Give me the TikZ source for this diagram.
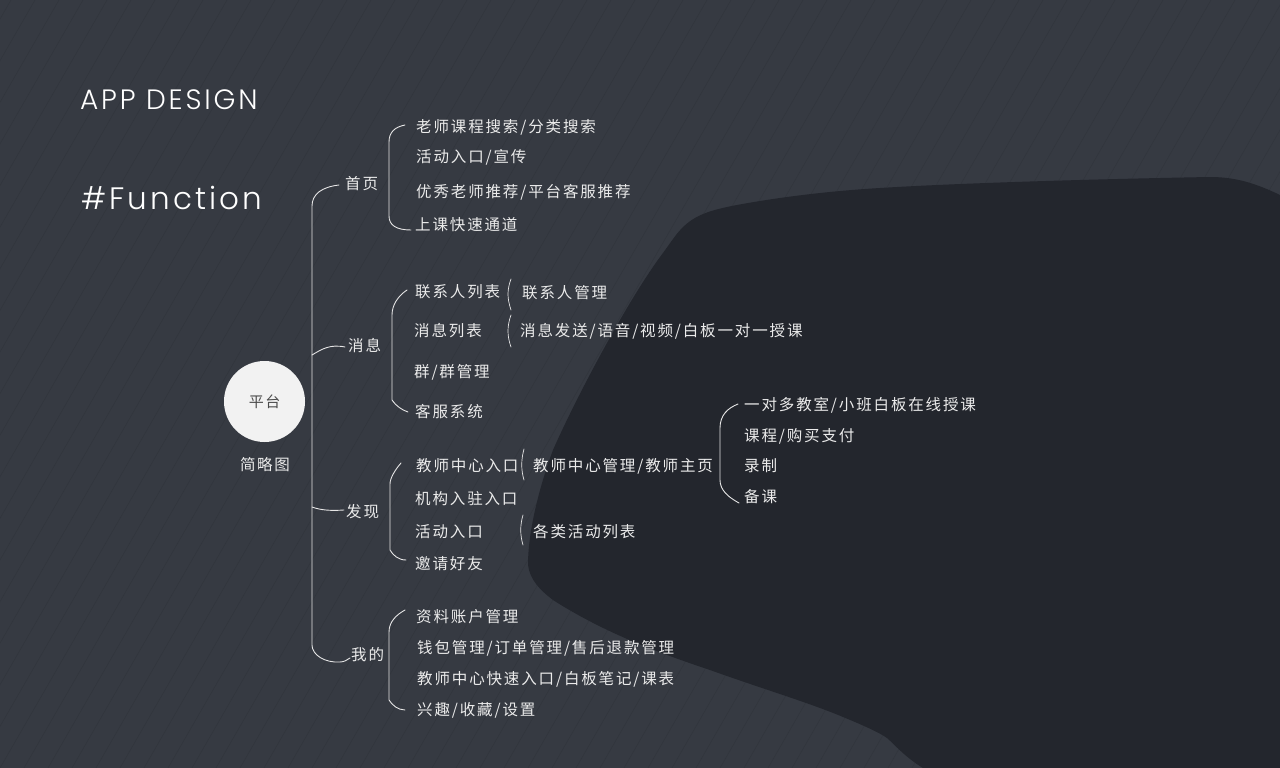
\documentclass[tikz,border=0pt]{standalone}
\usepackage{fontspec}
\usepackage{tikz}
\usetikzlibrary{calc}
\newfontfamily\cjkfont[LetterSpace=12]{Noto Sans CJK SC}
\newfontfamily\cjkroot[LetterSpace=10]{Noto Sans CJK SC}
\newfontfamily\headfont[LetterSpace=10]{Poppins Light}
\definecolor{bgdark}{HTML}{363A42}
\definecolor{blobdark}{HTML}{23262D}
\definecolor{stripe}{HTML}{31353C}
\definecolor{wirecol}{HTML}{E6E6E6}
\definecolor{rootfill}{HTML}{F2F2F2}
\tikzstyle{wire} = [wirecol,line width=0.9pt,line cap=round]
\tikzstyle{paren} = [wirecol,line width=0.7pt,line cap=round]
\tikzstyle{item} = [anchor=west,inner sep=0pt,yshift=-1pt,text=white!92!black,font=\fontsize{15.5}{17}\selectfont\cjkfont]
\tikzstyle{head} = [anchor=west,inner sep=0pt,text=white]
\begin{document}
\begin{tikzpicture}[x=1pt,y=-1pt]
   	% background
   	\useasboundingbox (0,0) rectangle (1280,768);
   	\fill[bgdark] (0,0) rectangle (1280,768);
   	\begin{scope}
   	\clip (0,0) rectangle (1280,768);
   	\foreach \i in {-20,...,70}{
   		\draw[stripe,line width=0.45pt] (\i*24,768) -- ++(443,-768);
   	}
   	\end{scope}
   	\fill[blobdark] (1280,195) .. controls (1255,183) and (1235,177) .. (1210,177)
   		.. controls (1100,179) and (960,183) .. (880,188)
   		.. controls (830,191) and (780,197) .. (737,205)
   		.. controls (705,211) and (690,217) .. (676,235)
   		.. controls (670,243) and (666,249) .. (660,257)
   		.. controls (625,305) and (575,400) .. (553,450)
   		.. controls (540,485) and (528,530) .. (528,565)
   		.. controls (530,580) and (540,590) .. (553,600)
   		.. controls (600,630) and (650,650) .. (710,670)
   		.. controls (760,688) and (810,703) .. (843,717)
   		.. controls (865,726) and (880,733) .. (887,738)
   		.. controls (895,745) and (905,757) .. (923,768)
   		-- (1280,768) -- cycle;
   	% titles
   	\node[head,font=\fontsize{28}{30}\selectfont\headfont] (title) at (80,100) {APP DESIGN};
   	\node[head,font=\fontsize{31}{38}\selectfont\headfont] (func) at (81,198) {\#Function};
   	% root
   	\node[circle,fill=rootfill,minimum size=81pt,inner sep=0pt,text=black!70,font=\fontsize{15}{16}\selectfont\cjkroot] (root) at (264.5,401.5) {平台};
   	\node[item,anchor=center,font=\fontsize{15.5}{16}\selectfont\cjkroot] (rootcap) at (265,464) {简略图};
   	% first level
   	\node[item] (home) at (345,183) {首页};
   	\node[item] (msg) at (348,345) {消息};
   	\node[item] (find) at (346,511) {发现};
   	\node[item] (mine) at (351,654) {我的};
   	% home
   	\node[item] (h_1) at (416,126) {老师课程搜索/分类搜索};
   	\node[item] (h_2) at (416,156) {活动入口/宣传};
   	\node[item] (h_3) at (416,191) {优秀老师推荐/平台客服推荐};
   	\node[item] (h_4) at (415,224) {上课快速通道};
   	% messages
   	\node[item] (m_1) at (415,291) {联系人列表};
   	\node[item] (m_2) at (414,330) {消息列表};
   	\node[item] (m_3) at (414,371) {群/群管理};
   	\node[item] (m_4) at (415,411) {客服系统};
   	\node[item] (m_1a) at (522,292) {联系人管理};
   	\node[item] (m_2a) at (520,330) {消息发送/语音/视频/白板一对一授课};
   	% discover
   	\node[item] (f_1) at (416,465) {教师中心入口};
   	\node[item] (f_2) at (415,498) {机构入驻入口};
   	\node[item] (f_3) at (415,531) {活动入口};
   	\node[item] (f_4) at (415,563) {邀请好友};
   	\node[item] (f_1a) at (533,465) {教师中心管理/教师主页};
   	\node[item] (f_3a) at (533,531) {各类活动列表};
   	\node[item] (t_1) at (744,404) {一对多教室/小班白板在线授课};
   	\node[item] (t_2) at (744,435) {课程/购买支付};
   	\node[item] (t_3) at (744,465) {录制};
   	\node[item] (t_4) at (744,496) {备课};
   	% mine
   	\node[item] (y_1) at (416,616) {资料账户管理};
   	\node[item] (y_2) at (417,647) {钱包管理/订单管理/售后退款管理};
   	\node[item] (y_3) at (417,678) {教师中心快速入口/白板笔记/课表};
   	\node[item] (y_4) at (417,709) {兴趣/收藏/设置};
   	% main trunk
   	\coordinate (home_tip) at ($(home.west)+(-6,1)$);
   	\coordinate (mine_tip) at ($(mine.west)+(-1,3)$);
   	\draw[wire] (home_tip) .. controls (322,187) and (312,194) .. (312,206) -- (312,645)
   		.. controls (312,655) and (325,663) .. (340,662) .. controls (344,662) and (347,660) .. (mine_tip);
   	\draw[wire] (312,355) .. controls (322,349) and (330,344) .. ($(msg.west)+(-3,1)$);
   	\draw[wire] (312,507) .. controls (320,510) and (330,511) .. ($(find.west)+(-2,-2)$);
   	% braces
   	\draw[wire] ($(h_1.west)+(-11,-2)$) .. controls (395,127) and (389,132) .. (389,142) -- (389,216)
   		.. controls (389,225) and (396,230) .. ($(h_4.west)+(-4,5)$);
   	\draw[wire] ($(m_1.west)+(-8,-2)$) .. controls (398,296) and (392,305) .. (392,315) -- (392,400)
   		.. controls (396,406) and (402,410) .. ($(m_4.west)+(-7,0)$);
   	\draw[wire] ($(f_1.west)+(-15,-3)$) .. controls (395,470) and (390,478) .. (390,484) -- (390,550)
   		.. controls (393,555) and (398,560) .. ($(f_4.west)+(-9,-4)$);
   	\draw[wire] ($(y_1.west)+(-11,-7)$) .. controls (396,615) and (389,622) .. (389,632) -- (389,700)
   		.. controls (392,705) and (398,710) .. ($(y_4.west)+(-12,0)$);
   	% small brackets
   	\draw[paren] (511,279) .. controls (507,290) and (507,298) .. (511,310);
   	\draw[paren] (511,315) .. controls (507,326) and (507,336) .. (511,347);
   	\draw[paren] (524,449) .. controls (521,460) and (521,470) .. (524,480);
   	\draw[paren] (523,515) .. controls (520,525) and (520,535) .. (523,545);
   	\draw[wire] ($(t_1.west)+(-6,-1)$) .. controls (728,408) and (720,415) .. (720,428) -- (720,480)
   		.. controls (720,490) and (728,497) .. ($(t_4.west)+(-5,6)$);
\end{tikzpicture}
\end{document}
